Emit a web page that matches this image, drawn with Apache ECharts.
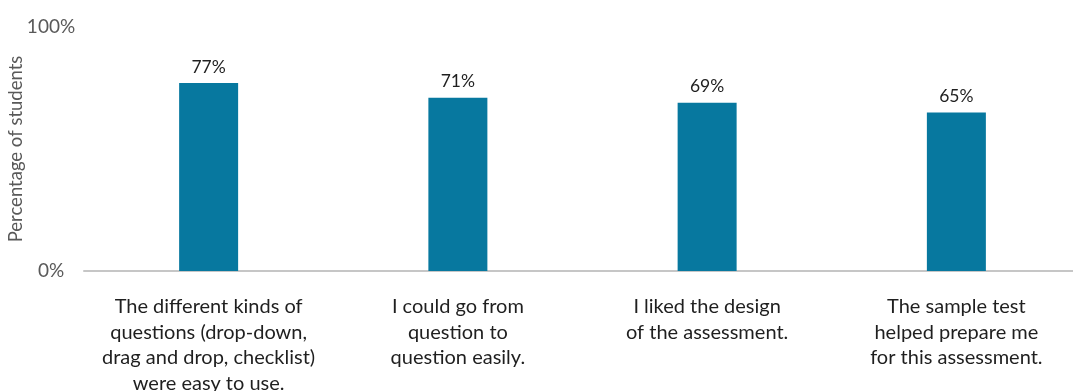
<!DOCTYPE html>
<html>
<head>
<meta charset="utf-8">
<script src="https://cdn.jsdelivr.net/npm/echarts@6/dist/echarts.min.js"></script>
<style>
  html, body { margin: 0; padding: 0; background: #ffffff; }
  #chart { width: 1073px; height: 391px; }
</style>
</head>
<body>
<div id="chart"></div>
<script>
// survey statements (x axis)
const categories = [
  "The different kinds of\nquestions (drop-down,\ndrag and drop, checklist)\nwere easy to use.",
  "I could go from\nquestion to\nquestion easily.",
  "I liked the design\nof the assessment.",
  "The sample test\nhelped prepare me\nfor this assessment."
]
// percent of students who agreed
const agreePct = [77, 71, 69, 65]
// y axis ticks
const yTicks = [0, 100]

const font = "Lato, 'Noto Sans', sans-serif"
const chart = echarts.init(document.getElementById("chart"))
chart.setOption({
  animation: false,
  grid: {
    left: 84, right: -8, top: 27, bottom: 120,
    containLabel: false,
    outerBoundsMode: "none"
  },
  xAxis: {
    type: "category",
    data: categories,
    axisLine: { lineStyle: { color: "#c6c6c6", width: 2 } },
    axisTick: { show: false },
    axisLabel: {
      interval: 0,
      margin: 23,
      color: "#1f1f1f",
      fontFamily: font,
      fontSize: 20,
      lineHeight: 25.5
    }
  },
  yAxis: {
    type: "value",
    min: yTicks[0],
    max: yTicks[yTicks.length - 1],
    interval: yTicks[1] - yTicks[0],
    splitLine: { show: false },
    axisLine: { show: false },
    axisTick: { show: false },
    axisLabel: {
      align: "center",
      margin: 33,
      color: "#595959",
      fontFamily: font,
      fontSize: 19,
      formatter: v => v + "%"
    },
    name: "Percentage of students",
    nameLocation: "middle",
    nameGap: 58,
    nameMoveOverlap: false,
    nameTextStyle: { color: "#595959", fontFamily: font, fontSize: 18.5 }
  },
  series: [
    {
      type: "bar",
      data: agreePct,
      barWidth: 59,
      itemStyle: { color: "#07789f" },
      label: {
        show: true,
        position: "top",
        distance: 7,
        color: "#1f1f1f",
        fontFamily: font,
        fontSize: 17.5,
        formatter: p => p.value + "%"
      }
    }
  ]
})
</script>
</body>
</html>
